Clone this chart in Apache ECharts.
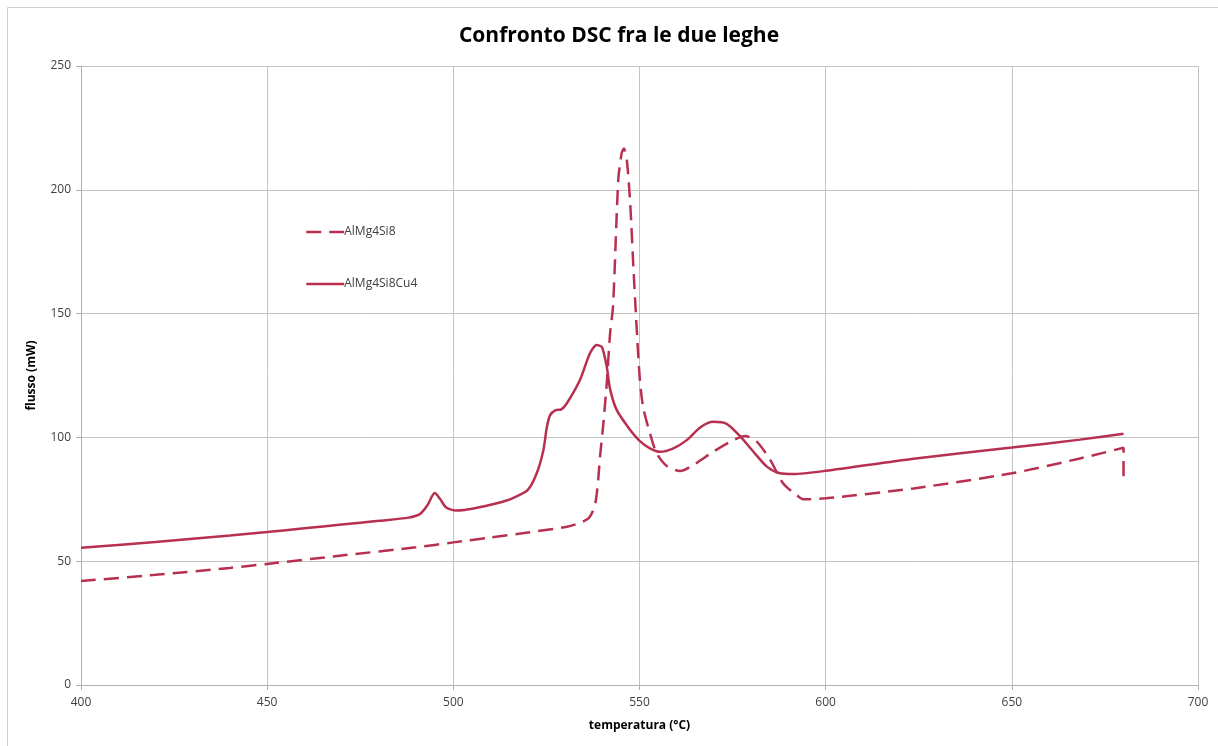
<!DOCTYPE html>
<html>
<head>
<meta charset="utf-8">
<script src="https://cdn.jsdelivr.net/npm/echarts@6/dist/echarts.min.js"></script>
<style>
html,body{margin:0;padding:0;background:#fff;}
#chart{width:1218px;height:746px;}
</style>
</head>
<body>
<div id="chart"></div>
<script>
var seriesNames = ['AlMg4Si8', 'AlMg4Si8Cu4'];
var xTicks = [400, 450, 500, 550, 600, 650, 700];
var yTicks = [0, 50, 100, 150, 200, 250];

// AlMg4Si8 (dashed): [temperatura, flusso]
var alMg4Si8 = [
  [400, 42.0], [420, 44.5], [440, 47.3], [450, 48.9], [470, 52.3], [490, 55.6],
  [500, 57.6], [510, 59.6], [520, 61.6], [530.5, 63.9], [534, 65.5], [536.3, 67.3],
  [537.6, 70.7], [538.3, 74.7], [538.9, 82.8], [539.4, 92.2], [540.3, 105.7],
  [541.2, 121.8], [542.1, 142], [542.9, 153], [544.3, 204], [545.2, 214.7],
  [545.8, 216.7], [546.6, 212], [547.5, 194.5], [548.4, 167.6], [549.1, 148],
  [550.1, 123.2], [551, 112], [552.8, 101.7], [554.6, 93.6], [557.3, 88.5],
  [560.9, 86.4], [564.5, 88.9], [569.8, 94.2], [575.2, 98.9], [578.4, 100.6],
  [581.5, 98.3], [585.1, 90.9], [588.6, 81.4], [592.2, 76.7], [594, 75.0],
  [600, 75.4], [623.6, 79.4], [650, 85.5], [668.3, 91.5], [680, 95.8], [680, 84.1]
];

// AlMg4Si8Cu4 (solid): [temperatura, flusso]
var alMg4Si8Cu4 = [
  [400, 55.4], [420, 57.8], [440, 60.4], [450, 61.8], [460, 63.3], [470, 64.8],
  [480, 66.3], [488, 67.6], [491, 69.0], [493, 72.5], [495, 77.5], [496.5, 75.0],
  [498, 71.8], [500.5, 70.5], [503, 70.7], [507, 71.8], [512, 73.5], [516, 75.5],
  [520, 78.8], [522.4, 85.5], [524.2, 94.9], [525.1, 104], [526, 109], [527.5, 111],
  [529, 111.3], [530.5, 113.8], [534, 123.2], [536.7, 134], [538.5, 137.3],
  [539.9, 136.5], [541.2, 128.6], [542.1, 119.5], [543.9, 111], [547.5, 103],
  [550.1, 98.5], [552.8, 95.6], [555.5, 94.2], [559.1, 95.6], [562.7, 98.9],
  [566.3, 104], [569.8, 106.3], [573.4, 105.5], [577, 100.5], [580.6, 94.2],
  [584.2, 88.2], [587.7, 85.5], [591.3, 85.2], [600, 86.5], [623.6, 91.4],
  [650, 95.9], [668.3, 99.1], [680, 101.5]
];

var lineColor = '#b8304f';
var labelColor = '#404040';
var fontFam = '"Open Sans", "Noto Sans", sans-serif';
var dashPattern = [15, 8];

var chart = echarts.init(document.getElementById('chart'), null, {renderer: 'canvas'});
chart.setOption({
  backgroundColor: '#ffffff',
  animation: false,
  title: {
    text: 'Confronto DSC fra le due leghe',
    left: 614,
    textAlign: 'center',
    top: 21,
    textStyle: {fontFamily: fontFam, fontSize: 21, fontWeight: 'bold', color: '#000'}
  },
  graphic: [{
    type: 'rect',
    shape: {x: 7.5, y: 7.5, width: 1400, height: 900},
    style: {fill: 'none', stroke: '#cfcfcf', lineWidth: 1},
    silent: true
  }],
  legend: {
    orient: 'vertical',
    left: 300,
    top: 221,
    itemGap: 40,
    itemWidth: 38,
    itemHeight: 14,
    itemStyle: {opacity: 0},
    data: [
      {name: seriesNames[0], lineStyle: {type: dashPattern, width: 2.5, color: lineColor}},
      {name: seriesNames[1], lineStyle: {type: 'solid', width: 2.5, color: lineColor}}
    ],
    textStyle: {fontFamily: fontFam, fontSize: 12, color: labelColor, padding: [0, 0, 0, -5]}
  },
  grid: {left: 81, right: 20, top: 66, bottom: 61, containLabel: false},
  xAxis: {
    type: 'value',
    min: xTicks[0],
    max: xTicks[xTicks.length - 1],
    interval: 50,
    name: 'temperatura (°C)',
    nameLocation: 'middle',
    nameGap: 35,
    nameTextStyle: {fontFamily: fontFam, fontSize: 12, fontWeight: 'bold', color: '#000'},
    axisLine: {show: true, lineStyle: {color: '#b0b0b0', width: 1}},
    axisTick: {show: true, length: 5, lineStyle: {color: '#b0b0b0'}},
    axisLabel: {fontFamily: fontFam, fontSize: 12, color: labelColor, margin: 12},
    splitLine: {show: true, lineStyle: {color: '#c4c4c4', width: 1}}
  },
  yAxis: {
    type: 'value',
    min: yTicks[0],
    max: yTicks[yTicks.length - 1],
    interval: 50,
    name: 'flusso (mW)',
    nameLocation: 'middle',
    nameGap: 43,
    nameRotate: 90,
    nameTextStyle: {fontFamily: fontFam, fontSize: 12, fontWeight: 'bold', color: '#000'},
    axisLine: {show: true, lineStyle: {color: '#b0b0b0', width: 1}},
    axisTick: {show: true, length: 5, lineStyle: {color: '#b0b0b0'}},
    axisLabel: {fontFamily: fontFam, fontSize: 12, color: labelColor, margin: 10},
    splitLine: {show: true, lineStyle: {color: '#c4c4c4', width: 1}}
  },
  series: [
    {
      name: seriesNames[0],
      type: 'line',
      data: alMg4Si8,
      showSymbol: false,
      symbol: 'none',
      smooth: 0.25,
      lineStyle: {color: lineColor, width: 2.5, type: dashPattern},
      itemStyle: {color: lineColor}
    },
    {
      name: seriesNames[1],
      type: 'line',
      data: alMg4Si8Cu4,
      showSymbol: false,
      symbol: 'none',
      smooth: 0.25,
      lineStyle: {color: lineColor, width: 2.5, type: 'solid'},
      itemStyle: {color: lineColor}
    }
  ]
});
</script>
</body>
</html>
